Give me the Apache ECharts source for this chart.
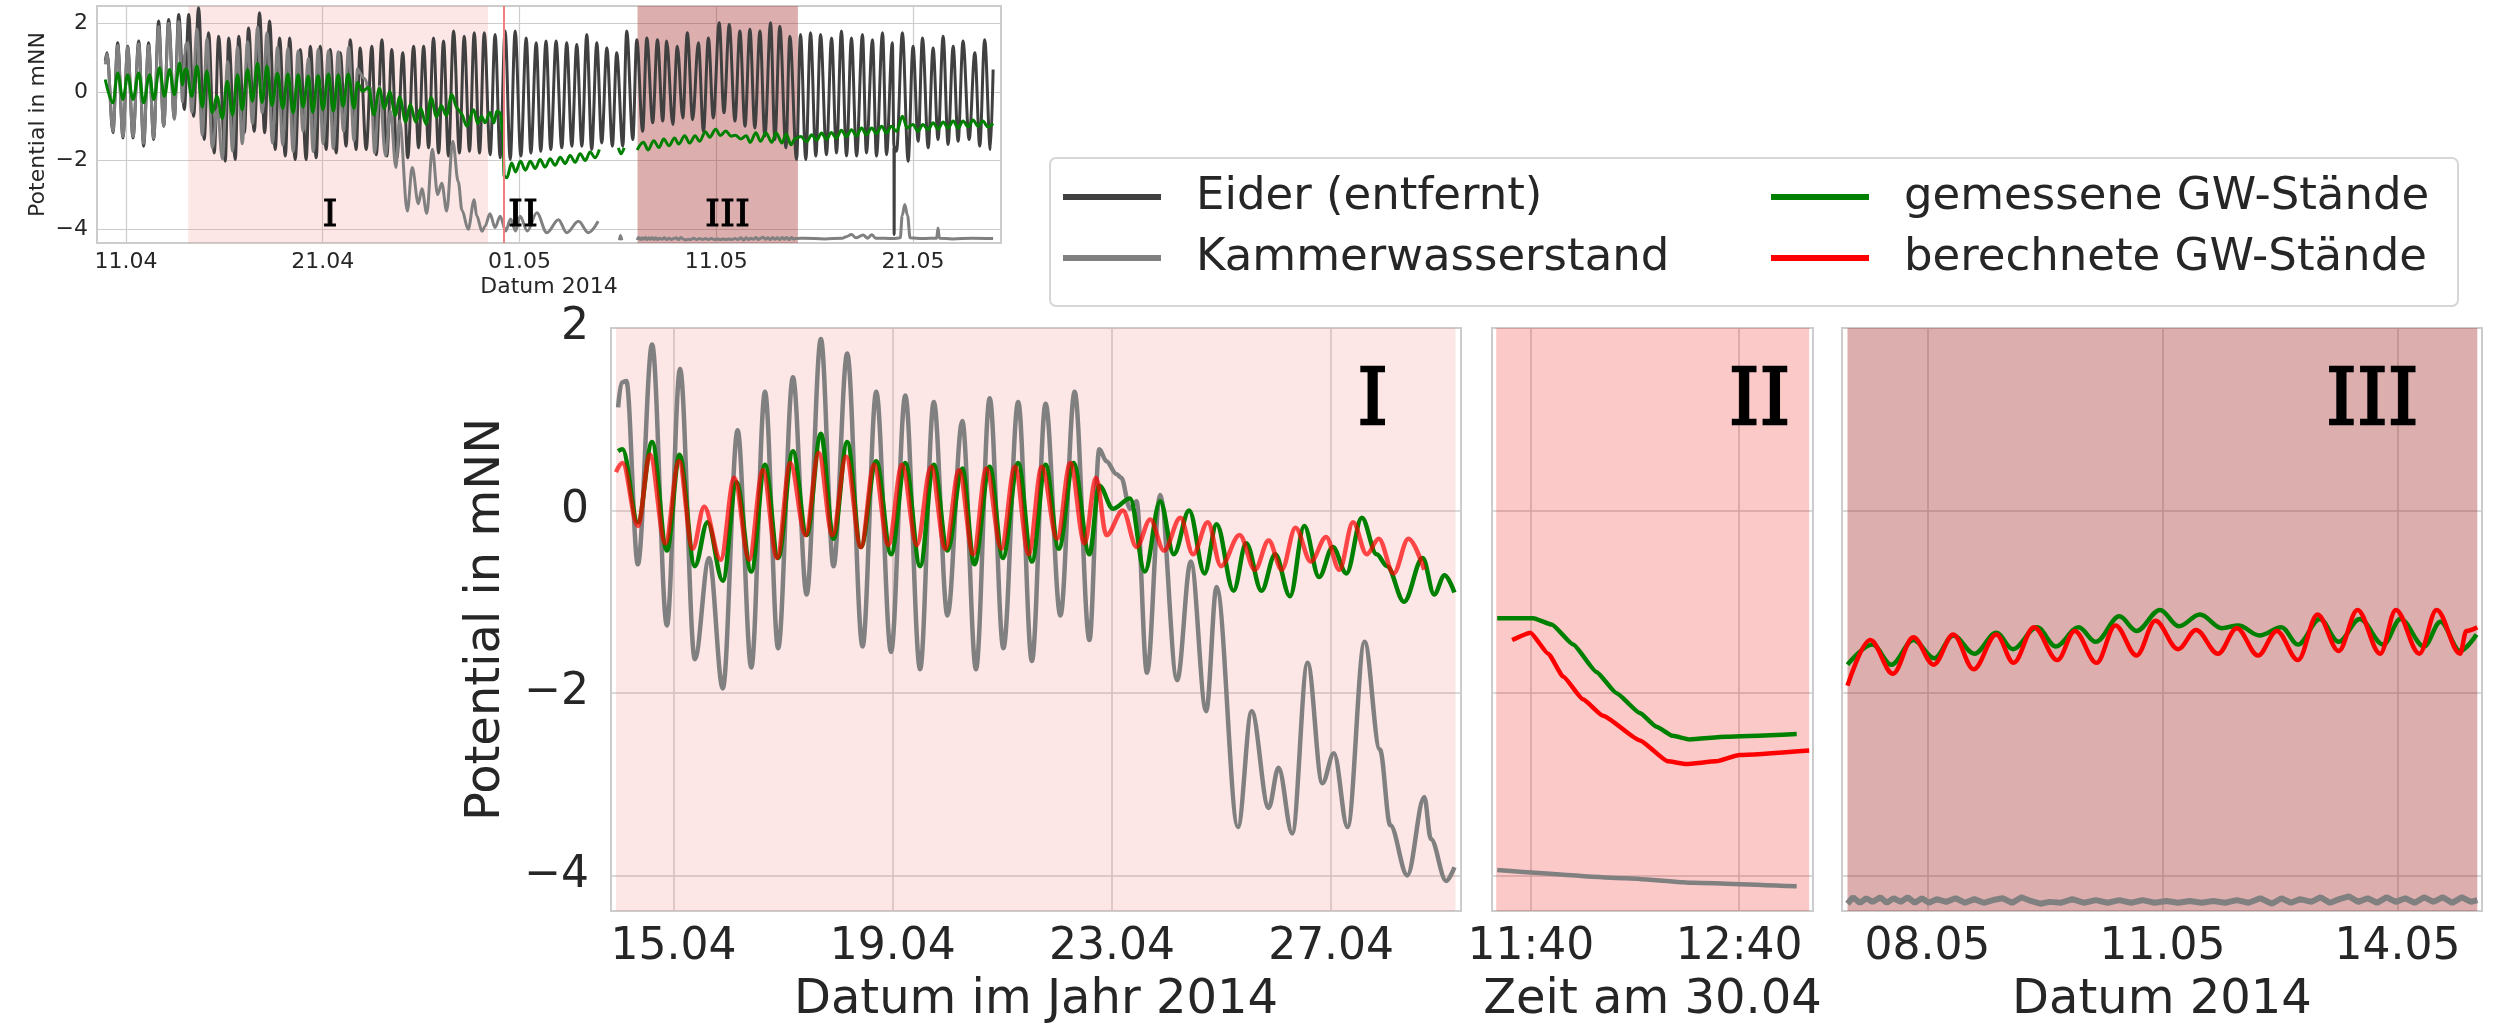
<!DOCTYPE html>
<html>
<head>
<meta charset="utf-8">
<title>Potential in mNN</title>
<script src="https://cdn.jsdelivr.net/npm/echarts@6.0.0/dist/echarts.min.js"></script>
<style>
  html, body { margin: 0; padding: 0; background: #fff; }
  #chart { width: 2497px; height: 1030px; }
</style>
</head>
<body>
<div id="chart"></div>
<script>
// x: Tag (April d = d, Mai d = 30 + d), Zeitfenster II in Minuten ab 0:00; y: Potential in mNN
// --- Übersicht (oben links) ---
const eider = [[9.95,0.90],[10.04,1.14],[10.34,-1.19],[10.58,1.43],[10.85,-1.34],[11.09,1.33],[11.36,-1.34],[11.65,1.48],[11.90,-1.58],[12.15,1.43],[12.41,-1.39],[12.66,2.06],[12.92,-1.00],[13.17,2.11],[13.46,-0.76],[13.68,2.25],[13.97,-0.51],[14.19,2.25],[14.44,-0.71],[14.69,2.45],[14.98,-1.39],[15.20,1.72],[15.49,-1.78],[15.71,1.62],[16.05,-2.02],[16.22,1.57],[16.56,-1.97],[16.73,1.62],[17.02,-1.19],[17.23,1.86],[17.52,-1.15],[17.79,2.30],[18.05,-1.19],[18.30,2.06],[18.59,-1.68],[18.81,1.57],[19.10,-1.87],[19.32,1.57],[19.60,-1.97],[19.86,1.23],[20.16,-1.97],[20.37,1.33],[20.67,-1.92],[20.87,1.33],[21.18,-1.68],[21.38,1.23],[21.69,-1.78],[21.89,1.14],[22.19,-1.58],[22.40,1.52],[22.70,-1.68],[22.90,1.28],[23.21,-1.68],[23.50,1.33],[23.72,-1.83],[24.01,1.52],[24.26,-1.87],[24.51,1.23],[24.77,-1.92],[25.07,1.14],[25.32,-1.92],[25.62,1.33],[25.87,-1.63],[26.13,1.33],[26.38,-1.63],[26.63,1.57],[26.89,-1.78],[27.14,1.48],[27.39,-1.87],[27.65,1.77],[27.95,-1.78],[28.19,1.62],[28.46,-1.73],[28.70,1.72],[28.97,-1.78],[29.21,1.72],[29.51,-1.83],[29.76,1.67],[30.02,-1.92],[30.27,1.77],[30.53,-1.97],[30.78,1.77],[31.07,-1.87],[31.34,1.57],[31.58,-1.78],[31.85,1.43],[32.08,-1.73],[32.35,1.48],[32.59,-1.68],[32.86,1.48],[33.15,-1.63],[33.40,1.43],[33.66,-1.58],[33.91,1.38],[34.17,-1.58],[34.42,1.67],[34.67,-1.68],[34.93,1.43],[35.18,-1.49],[35.44,1.28],[35.72,-1.58],[35.94,1.14],[36.25,-1.58],[36.45,1.77],[36.76,-1.39],[36.96,1.52],[37.26,-1.15],[37.47,1.57],[37.77,-0.90],[38.01,1.52],[38.28,-0.85],[38.48,1.48],[38.79,-0.95],[39.02,1.33],[39.30,-0.76],[39.53,1.72],[39.80,-0.81],[40.09,1.43],[40.35,-1.15],[40.60,1.57],[40.85,-0.76],[41.15,2.01],[41.39,-0.61],[41.66,1.96],[41.95,-0.85],[42.20,1.77],[42.46,-1.00],[42.71,1.82],[42.96,-1.05],[43.22,1.77],[43.47,-1.29],[43.76,2.01],[43.98,-1.39],[44.23,1.91],[44.54,-1.63],[44.74,1.62],[45.08,-1.97],[45.28,1.67],[45.55,-1.97],[45.79,1.72],[46.06,-1.87],[46.30,1.67],[46.60,-1.83],[46.86,1.57],[47.11,-1.78],[47.36,1.77],[47.62,-1.87],[47.87,1.57],[48.13,-1.87],[48.43,1.67],[48.63,-1.78],[48.94,1.52],[49.14,-1.87],[49.45,1.72],[49.65,-1.83],[49.95,1.43],[50.03,-1.60],[50.04,-4.15],[50.05,-1.60],[50.16,-1.73],[50.46,1.72],[50.75,-2.02],[51.00,1.33],[51.26,-1.44],[51.48,1.57],[51.77,-1.63],[52.02,1.28],[52.27,-1.39],[52.53,1.62],[52.78,-1.53],[53.04,1.33],[53.29,-1.44],[53.54,1.48],[53.85,-1.39],[54.14,1.14],[54.39,-1.58],[54.64,1.52],[54.93,-1.68],[55.07,0.65]];
const kammerEarly = [[9.95,0.80],[10.04,1.10],[10.34,-1.15],[10.58,1.35],[10.85,-1.30],[11.09,1.30],[11.36,-1.30],[11.65,1.40],[11.90,-1.50],[12.15,1.35],[12.41,-1.35],[12.66,1.90],[12.92,-1.00],[13.17,2.00],[13.46,-0.80],[13.68,2.05],[13.88,-0.30]];
const kammerLate = [[29.50,-3.55],[29.76,-3.95],[30.02,-3.62],[30.30,-4.05],[30.55,-3.70],[30.80,-4.05],[31.03,-3.62],[31.40,-4.05],[31.88,-3.52],[32.39,-4.10],[32.98,-3.72],[33.40,-4.10],[34.00,-3.77],[34.50,-4.10],[35.00,-3.77],[35.50,null],[36.08,-4.32],[36.13,-4.18],[36.20,-4.32],[36.60,null]];
const kammerEnd = [[45.50,-4.26],[46.50,-4.28],[47.40,-4.26],[47.60,-4.22],[47.87,-4.15],[48.10,-4.25],[48.46,-4.17],[48.70,-4.26],[48.90,-4.16],[49.10,-4.26],[50.00,-4.27],[50.35,-4.25],[50.45,-3.60],[50.58,-3.28],[50.72,-3.60],[50.85,-4.25],[51.50,-4.27],[52.20,-4.26],[52.27,-3.96],[52.34,-4.26],[53.00,-4.28],[54.00,-4.26],[55.07,-4.27]];
const greenEarly = [[9.95,0.36],[10.34,-0.32],[10.58,0.55],[10.85,-0.22],[11.09,0.50],[11.36,-0.22],[11.65,0.55],[11.90,-0.32],[12.20,0.50],[12.41,-0.22],[12.71,0.70],[12.95,-0.13],[13.22,0.65],[13.46,-0.08],[13.73,0.84],[13.88,0.20]];
const greenLate = [[29.50,-0.60],[29.70,-0.90],[29.85,-0.56],[30.02,-0.61],[30.16,-1.19],[30.22,-2.46],[30.36,-2.50],[30.60,-2.07],[30.80,-2.33],[31.05,-2.02],[31.30,-2.28],[31.55,-2.02],[31.80,-2.23],[32.05,-1.97],[32.30,-2.19],[32.56,-1.95],[32.81,-2.14],[33.07,-1.90],[33.32,-2.09],[33.57,-1.85],[33.83,-2.05],[34.08,-1.80],[34.34,-2.00],[34.59,-1.75],[34.84,-1.92],[35.06,-1.68],[35.50,null],[36.03,-1.63],[36.15,-1.80],[36.32,-1.63],[36.60,null]];
const greenEnd = [[45.30,-1.30],[45.59,-1.45],[45.85,-1.25],[46.10,-1.40],[46.35,-1.20],[46.60,-1.38],[46.85,-1.18],[47.10,-1.35],[47.36,-1.12],[47.62,-1.30],[47.87,-1.10],[48.13,-1.28],[48.38,-1.05],[48.63,-1.25],[48.90,-1.05],[49.14,-1.22],[49.40,-1.00],[49.65,-1.20],[49.90,-1.00],[50.16,-1.15],[50.46,-0.71],[50.70,-1.05],[51.00,-0.95],[51.25,-1.15],[51.50,-0.95],[51.77,-1.10],[52.02,-0.90],[52.27,-1.08],[52.53,-0.88],[52.78,-1.05],[53.04,-0.85],[53.29,-1.05],[53.54,-0.85],[53.80,-1.02],[54.05,-0.82],[54.30,-1.00],[54.55,-0.85],[54.80,-1.02],[55.07,-0.92]];

// --- Zeitraum I ---
const kammerI = [[13.99,1.13],[14.05,1.40],[14.14,1.42],[14.35,-0.59],[14.61,1.82],[14.88,-1.26],[15.12,1.55],[15.39,-1.63],[15.65,-0.52],[15.90,-1.95],[16.17,0.88],[16.42,-1.72],[16.67,1.30],[16.91,-1.51],[17.18,1.46],[17.43,-0.92],[17.69,1.88],[17.92,-0.61],[18.17,1.72],[18.45,-1.49],[18.70,1.30],[18.97,-1.55],[19.23,1.26],[19.50,-1.74],[19.75,1.19],[20.00,-1.15],[20.27,0.98],[20.52,-1.74],[20.77,1.23],[21.02,-1.51],[21.29,1.19],[21.54,-1.65],[21.79,1.17],[22.06,-1.15],[22.32,1.30],[22.59,-1.42],[22.77,0.67],[22.90,0.54],[23.08,0.40],[23.17,0.36],[23.33,0.02],[23.45,0.10],[23.64,-1.78],[23.88,0.17],[24.19,-1.86],[24.44,-0.56],[24.72,-2.20],[24.91,-0.84],[25.30,-3.47],[25.55,-2.20],[25.86,-3.26],[26.04,-2.82],[26.29,-3.54],[26.57,-1.67],[26.84,-2.99],[27.05,-2.66],[27.30,-3.47],[27.61,-1.44],[27.89,-2.62],[28.08,-3.45],[28.39,-4.00],[28.70,-3.14],[28.82,-3.60],[29.10,-4.06],[29.25,-3.91]];
const greenI = [[13.99,0.65],[14.07,0.67],[14.35,-0.13],[14.61,0.75],[14.88,-0.44],[15.11,0.61],[15.39,-0.61],[15.62,-0.13],[15.90,-0.77],[16.15,0.31],[16.42,-0.67],[16.67,0.50],[16.91,-0.52],[17.18,0.65],[17.43,-0.27],[17.69,0.84],[17.92,-0.31],[18.17,0.75],[18.42,-0.40],[18.70,0.54],[18.97,-0.48],[19.23,0.52],[19.50,-0.61],[19.75,0.50],[20.00,-0.44],[20.27,0.46],[20.49,-0.59],[20.77,0.48],[21.01,-0.52],[21.29,0.52],[21.54,-0.56],[21.79,0.50],[22.03,-0.42],[22.30,0.52],[22.59,-0.48],[22.77,0.27],[23.02,0.02],[23.33,0.13],[23.60,-0.67],[23.88,0.10],[24.13,-0.48],[24.41,0.00],[24.69,-0.69],[24.91,-0.15],[25.22,-0.88],[25.45,-0.36],[25.73,-0.88],[25.98,-0.48],[26.25,-0.94],[26.51,-0.17],[26.78,-0.73],[27.03,-0.40],[27.28,-0.69],[27.56,-0.08],[27.83,-0.48],[28.02,-0.61],[28.33,-1.00],[28.67,-0.52],[28.88,-0.92],[29.07,-0.71],[29.25,-0.90]];
const redI = [[13.95,0.42],[14.07,0.52],[14.35,-0.17],[14.57,0.61],[14.85,-0.36],[15.10,0.54],[15.35,-0.42],[15.56,0.04],[15.86,-0.54],[16.11,0.36],[16.38,-0.54],[16.63,0.44],[16.89,-0.52],[17.13,0.52],[17.41,-0.27],[17.65,0.63],[17.90,-0.27],[18.15,0.59],[18.42,-0.40],[18.66,0.50],[18.92,-0.38],[19.17,0.50],[19.44,-0.38],[19.70,0.48],[19.96,-0.42],[20.21,0.44],[20.47,-0.48],[20.71,0.46],[20.98,-0.42],[21.23,0.48],[21.48,-0.48],[21.72,0.48],[22.00,-0.31],[22.24,0.52],[22.50,-0.36],[22.71,0.36],[22.90,-0.27],[23.20,0.00],[23.45,-0.40],[23.70,-0.10],[23.95,-0.44],[24.25,-0.08],[24.48,-0.48],[24.75,-0.13],[24.99,-0.61],[25.33,-0.27],[25.61,-0.65],[25.86,-0.33],[26.10,-0.65],[26.35,-0.19],[26.63,-0.56],[26.91,-0.29],[27.15,-0.65],[27.40,-0.13],[27.65,-0.48],[27.87,-0.31],[28.14,-0.69],[28.41,-0.31],[28.70,-0.65]];

// --- Zeitraum II (30.04, Minuten) ---
const kammerII = [[690.3,-3.94],[727.5,-4.03],[746.7,-4.08],[776.6,-4.12]];
const greenII = [[690.3,-1.18],[700.7,-1.18],[706.0,-1.25],[712.2,-1.47],[718.9,-1.77],[724.6,-2.00],[731.4,-2.22],[736.2,-2.37],[740.9,-2.47],[745.7,-2.51],[756.3,-2.48],[776.6,-2.45]];
const redII = [[694.6,-1.42],[699.9,-1.34],[705.0,-1.57],[709.3,-1.82],[715.0,-2.07],[720.8,-2.25],[731.4,-2.52],[739.5,-2.75],[744.8,-2.78],[753.4,-2.75],[760.1,-2.68],[780.2,-2.63]];

// --- Zeitraum III ---
const kammerIII = [[36.98,-4.31],[37.05,-4.24],[37.14,-4.30],[37.22,-4.25],[37.30,-4.29],[37.40,-4.24],[37.48,-4.30],[37.57,-4.25],[37.66,-4.29],[37.75,-4.24],[37.84,-4.30],[37.93,-4.25],[38.02,-4.30],[38.12,-4.26],[38.24,-4.29],[38.36,-4.25],[38.48,-4.30],[38.60,-4.26],[38.72,-4.30],[38.84,-4.27],[38.96,-4.25],[39.08,-4.30],[39.20,-4.24],[39.32,-4.28],[39.44,-4.31],[39.56,-4.29],[39.70,-4.30],[39.85,-4.26],[40.00,-4.30],[40.15,-4.27],[40.30,-4.30],[40.45,-4.27],[40.60,-4.30],[40.75,-4.27],[40.90,-4.30],[41.05,-4.28],[41.20,-4.30],[41.35,-4.28],[41.50,-4.30],[41.65,-4.28],[41.80,-4.30],[41.95,-4.27],[42.10,-4.30],[42.25,-4.25],[42.40,-4.31],[42.52,-4.25],[42.64,-4.30],[42.76,-4.26],[42.90,-4.29],[43.02,-4.24],[43.14,-4.30],[43.26,-4.26],[43.38,-4.23],[43.50,-4.29],[43.62,-4.25],[43.74,-4.30],[43.86,-4.24],[43.98,-4.29],[44.10,-4.25],[44.22,-4.30],[44.34,-4.24],[44.46,-4.29],[44.58,-4.24],[44.70,-4.30],[44.82,-4.24],[44.94,-4.29],[45.02,-4.27]];
const greenIII = [[36.98,-1.69],[37.30,-1.47],[37.54,-1.69],[37.82,-1.42],[38.09,-1.62],[38.33,-1.37],[38.60,-1.57],[38.88,-1.34],[39.09,-1.52],[39.40,-1.28],[39.64,-1.49],[39.93,-1.28],[40.15,-1.44],[40.45,-1.16],[40.67,-1.32],[40.97,-1.09],[41.21,-1.27],[41.48,-1.14],[41.76,-1.29],[41.97,-1.26],[42.24,-1.37],[42.52,-1.28],[42.73,-1.47],[43.01,-1.19],[43.25,-1.44],[43.52,-1.19],[43.82,-1.47],[44.04,-1.19],[44.34,-1.49],[44.55,-1.22],[44.80,-1.54],[45.01,-1.36]];
const redIII = [[36.98,-1.92],[37.27,-1.42],[37.56,-1.79],[37.82,-1.39],[38.08,-1.69],[38.33,-1.36],[38.59,-1.74],[38.88,-1.36],[39.10,-1.67],[39.36,-1.28],[39.66,-1.64],[39.88,-1.32],[40.16,-1.67],[40.40,-1.26],[40.67,-1.59],[40.91,-1.21],[41.20,-1.52],[41.43,-1.31],[41.71,-1.57],[41.95,-1.29],[42.22,-1.59],[42.46,-1.32],[42.73,-1.64],[42.98,-1.14],[43.25,-1.54],[43.49,-1.09],[43.78,-1.57],[43.98,-1.09],[44.28,-1.57],[44.50,-1.09],[44.80,-1.57],[44.88,-1.32],[45.02,-1.28]];

const yTicks = [-4, -2, 0, 2];

const FONT = 'DejaVu Sans';
const SERIF = 'DejaVu Serif';
const TXT = '#262626';
const GRIDC = '#cccccc';
const C_EIDER = '#404040', C_KAMMER = '#808080', C_GREEN = '#008000', C_RED = '#ff0000';

function pad(n) { return (n < 10 ? '0' : '') + n; }
function dm(d) {
  return d > 30.5 ? pad(Math.round(d - 30)) + '.05' : pad(Math.round(d)) + '.04';
}
function hm(m) { return pad(Math.floor(m / 60)) + ':' + pad(Math.round(m % 60)); }
function minus(v) { return (v < 0 ? '\u2212' : '') + Math.abs(v); }

function xAx(idx, min, max, ticks, fmt, name, big) {
  const fs = big ? 44 : 22;
  return {
    type: 'value', gridIndex: idx, min: min, max: max,
    axisLine: { show: false },
    axisTick: { show: false, customValues: ticks },
    axisLabel: { customValues: ticks, formatter: fmt, fontSize: fs, fontFamily: FONT, color: TXT, margin: big ? 15 : 8 },
    splitLine: { show: true, lineStyle: { color: GRIDC, width: big ? 1.5 : 1.2 } },
    name: name, nameLocation: 'middle', nameGap: big ? 66 : 33,
    nameTextStyle: { fontSize: big ? 48 : 22, fontFamily: FONT, color: TXT }
  };
}
function yAx(idx, min, max, labels, big) {
  return {
    type: 'value', gridIndex: idx, min: min, max: max,
    axisLine: { show: false },
    axisTick: { show: false, customValues: yTicks },
    axisLabel: { show: labels, customValues: yTicks, formatter: minus, fontSize: big ? 44 : 22, fontFamily: FONT, color: TXT, margin: big ? 22 : 9 },
    splitLine: { show: true, lineStyle: { color: GRIDC, width: big ? 1.5 : 1.2 } },
    name: labels ? 'Potential in mNN' : '', nameLocation: 'middle', nameRotate: 90, nameGap: big ? 100 : 48,
    nameTextStyle: { fontSize: big ? 48 : 22, fontFamily: FONT, color: TXT }
  };
}
function line(name, data, ax, color, width, extra) {
  return Object.assign({
    type: 'line', name: name, data: data, xAxisIndex: ax, yAxisIndex: ax,
    showSymbol: false, symbol: 'none', smooth: 0.35, smoothMonotone: 'x', connectNulls: false,
    lineStyle: { color: color, width: width }, itemStyle: { color: color },
    emphasis: { disabled: true }, silent: true
  }, extra || {});
}
// römische Kennzeichnung der Zeiträume (Serifenschrift, leicht verstärkt)
function roman(items, size, stroke) {
  return {
    silent: true, symbol: 'circle', symbolSize: 1, itemStyle: { color: 'rgba(0,0,0,0)' },
    label: {
      show: true, position: 'inside', formatter: '{b}', fontFamily: SERIF, fontSize: size, color: '#000',
      textBorderColor: '#000', textBorderWidth: stroke
    },
    data: items
  };
}
const SHADE_I = 'rgba(240,128,128,0.2)';
const SHADE_II = 'rgba(240,0,0,0.21)';
const SHADE_III = 'rgba(165,42,42,0.38)';

const chart = echarts.init(document.getElementById('chart'), null, { renderer: 'canvas' });

const option = {
  animation: false,
  backgroundColor: '#fff',
  grid: [
    { left: 97, top: 6, width: 904, height: 237, show: true, borderColor: GRIDC, borderWidth: 2, backgroundColor: 'transparent' },
    { left: 611, top: 328, width: 850, height: 585, show: true, borderColor: GRIDC, borderWidth: 2, backgroundColor: 'transparent' },
    { left: 1492, top: 328, width: 321, height: 585, show: true, borderColor: GRIDC, borderWidth: 2, backgroundColor: 'transparent' },
    { left: 1842, top: 328, width: 640, height: 585, show: true, borderColor: GRIDC, borderWidth: 2, backgroundColor: 'transparent' }
  ],
  xAxis: [
    xAx(0, 9.53, 55.47, [11, 21, 31, 41, 51], dm, 'Datum 2014', false),
    xAx(1, 13.86, 29.37, [15, 19, 23, 27], dm, 'Datum im Jahr 2014', true),
    xAx(2, 688.8, 781.3, [700, 760], hm, 'Zeit am 30.04', true),
    xAx(3, 36.91, 45.08, [38, 41, 44], dm, 'Datum 2014', true)
  ],
  yAxis: [
    yAx(0, -4.4, 2.5, true, false),
    yAx(1, -4.39, 2.0, true, true),
    yAx(2, -4.39, 2.0, false, true),
    yAx(3, -4.39, 2.0, false, true)
  ],
  legend: [
    {
      orient: 'vertical', left: 1063, top: 172, padding: 0, itemGap: 11,
      icon: 'rect', itemWidth: 98, itemHeight: 6, selectedMode: false,
      textStyle: { fontSize: 45, fontFamily: FONT, color: TXT, lineHeight: 50, padding: [0, 0, 0, 30] },
      data: [
        { name: 'Eider (entfernt)', itemStyle: { color: C_EIDER } },
        { name: 'Kammerwasserstand', itemStyle: { color: C_KAMMER } }
      ]
    },
    {
      orient: 'vertical', left: 1771, top: 172, padding: 0, itemGap: 11,
      icon: 'rect', itemWidth: 98, itemHeight: 6, selectedMode: false,
      textStyle: { fontSize: 45, fontFamily: FONT, color: TXT, lineHeight: 50, padding: [0, 0, 0, 30] },
      data: [
        { name: 'gemessene GW-Stände', itemStyle: { color: C_GREEN } },
        { name: 'berechnete GW-Stände', itemStyle: { color: C_RED } }
      ]
    }
  ],
  graphic: [
    {
      type: 'rect', left: 1049, top: 157, z: 1,
      shape: { width: 1408, height: 148, r: 6 },
      style: { fill: '#fff', stroke: '#d6d6d6', lineWidth: 2 }
    }
  ],
  series: [
    // Übersicht
    line('Eider (entfernt)', eider, 0, C_EIDER, 3, {
      z: 2,
      markArea: {
        silent: true,
        data: [
          [{ xAxis: 14.17, itemStyle: { color: SHADE_I } }, { xAxis: 29.40 }],
          [{ xAxis: 37.0, itemStyle: { color: SHADE_III } }, { xAxis: 45.15 }]
        ]
      },
      markLine: {
        silent: true, symbol: ['none', 'none'], label: { show: false },
        lineStyle: { color: '#f08080', width: 2, type: 'solid' },
        data: [{ xAxis: 30.21 }]
      }
    }),
    line('Kammerwasserstand', kammerEarly.concat(kammerI, kammerLate, kammerIII, kammerEnd), 0, C_KAMMER, 3, { z: 3 }),
    line('gemessene GW-Stände', greenEarly.concat(greenI, greenLate, greenIII, greenEnd), 0, C_GREEN, 3, {
      z: 4,
      markPoint: roman([
        { name: 'I', coord: [21.37, -3.62] },
        { name: 'II', coord: [31.18, -3.62] },
        { name: 'III', coord: [41.57, -3.62] }
      ], 38, 1)
    }),

    // Zeitraum I
    line('Kammerwasserstand', kammerI, 1, C_KAMMER, 4.5, {
      z: 2,
      markArea: { silent: true, itemStyle: { color: SHADE_I }, data: [[{ xAxis: 13.95 }, { xAxis: 29.27 }]] }
    }),
    line('gemessene GW-Stände', greenI, 1, C_GREEN, 4.5, {
      z: 3,
      markPoint: roman([{ name: 'I', coord: [27.76, 1.17] }], 78, 2.5)
    }),
    line('berechnete GW-Stände', redI, 1, C_RED, 4.5, { z: 4, lineStyle: { color: C_RED, width: 4.5, opacity: 0.7 } }),

    // Zeitraum II
    line('Kammerwasserstand', kammerII, 2, C_KAMMER, 4.5, {
      z: 2, smooth: 0.15,
      markArea: { silent: true, itemStyle: { color: SHADE_II }, data: [[{ xAxis: 690 }, { xAxis: 780.2 }]] }
    }),
    line('gemessene GW-Stände', greenII, 2, C_GREEN, 4.5, {
      z: 3, smooth: 0.15,
      markPoint: roman([{ name: 'II', coord: [765.9, 1.17] }], 78, 2.5)
    }),
    line('berechnete GW-Stände', redII, 2, C_RED, 4.5, { z: 4, smooth: 0.15 }),

    // Zeitraum III
    line('Kammerwasserstand', kammerIII, 3, C_KAMMER, 6, {
      z: 2, smooth: false,
      markArea: { silent: true, itemStyle: { color: SHADE_III }, data: [[{ xAxis: 36.98 }, { xAxis: 45.02 }]] }
    }),
    line('gemessene GW-Stände', greenIII, 3, C_GREEN, 4.5, {
      z: 3,
      markPoint: roman([{ name: 'III', coord: [43.68, 1.17] }], 78, 2.5)
    }),
    line('berechnete GW-Stände', redIII, 3, C_RED, 4.5, { z: 4 })
  ]
};

chart.setOption(option);
</script>
</body>
</html>
